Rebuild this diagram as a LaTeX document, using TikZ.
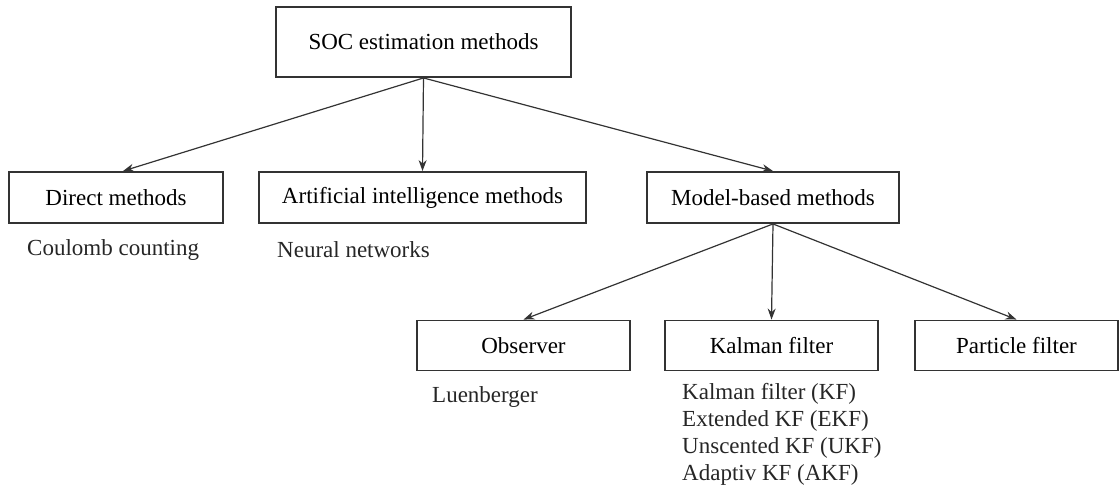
\documentclass[tikz,border=0pt]{standalone}
\usepackage{fontspec}
\setmainfont{Liberation Serif}
\usetikzlibrary{arrows.meta,positioning}
\definecolor{ink}{HTML}{333333}
\tikzset{
  box/.style={draw=ink, line width=1.9pt, inner sep=0pt, minimum height=#1, anchor=center},
  box/.default=51pt,
  conn/.style={draw=ink, line width=1.2pt, -{Stealth[length=11pt,width=8pt]}},
  lbl/.style={anchor=west, inner sep=0pt, text=black!85},
}
\begin{document}
\begin{tikzpicture}[x=1pt,y=-1pt,font=\fontsize{23}{27}\selectfont]
\useasboundingbox (0,0) rectangle (1120,494);
% top
\node[box=70pt, minimum width=295pt] (soc) at (423.5,42) {SOC estimation methods};
% middle row
\node[box, minimum width=214pt] (dir) at (116,197.5) {Direct methods};
\node[box, minimum width=327pt] (ai) at (422.5,197.5) {Artificial intelligence methods};
\node[box, minimum width=252pt] (mb) at (773,197.5) {Model-based methods};
% bottom row
\node[box=50pt, minimum width=213pt] (obs) at (523.5,345.5) {Observer};
\node[box=50pt, minimum width=213pt] (kf) at (771.5,345.5) {Kalman filter};
\node[box=50pt, minimum width=203pt] (pf) at (1016.5,345.5) {Particle filter};
% labels
\node[lbl] (cc) at (27,250) {Coulomb counting};
\node[lbl] (nn) at (277,250) {Neural networks};
\node[lbl] (lu) at (432,397) {Luenberger};
\node[lbl, align=left, anchor=north west] (kl) at (682,383) {Kalman filter (KF)\\Extended KF (EKF)\\Unscented KF (UKF)\\Adaptiv KF (AKF)};
% connectors
\draw[conn] (soc.south) -- ([xshift=7pt]dir.north);
\draw[conn] (soc.south) -- (ai.north);
\draw[conn] (soc.south) -- (mb.north);
\draw[conn] (mb.south) -- (obs.north);
\draw[conn] (mb.south) -- (kf.north);
\draw[conn] (mb.south) -- (pf.north);
\end{tikzpicture}
\end{document}
